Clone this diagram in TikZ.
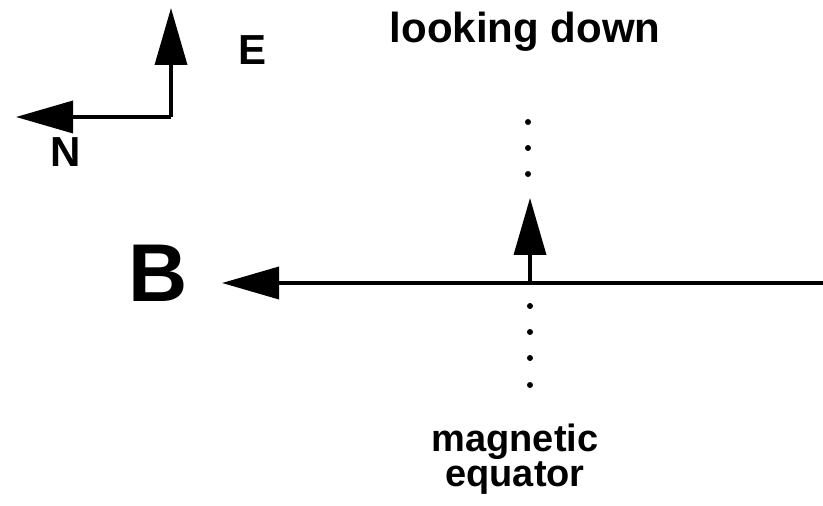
\documentclass[tikz,border=0pt]{standalone}
\usepackage{fontspec}
\setmainfont{Liberation Sans}
\usetikzlibrary{arrows.meta,positioning}

\begin{document}
\begin{tikzpicture}[x=0.5pt,y=-0.5pt,
  lbl/.style={font=\bfseries\fontsize{21}{21}\selectfont,inner sep=0pt,anchor=base},
  big/.style={font=\bfseries\fontsize{41}{41}\selectfont,inner sep=0pt,anchor=base},
  vec/.style={line width=1.8pt,-{Triangle[length=28.5pt,width=16pt]}},
  dot/.style={fill=black}]
 \useasboundingbox (0,0) rectangle (823,506);
 % compass
 \coordinate (corner) at (171,117);
 \coordinate (eTip) at (171,8);
 \coordinate (nTip) at (16,117);
 \draw[vec] (corner)--(eTip);
 \draw[vec] (corner)--(nTip);
 \node[lbl] (east) at (253,65) {E};
 \node[lbl] (north) at (66,167) {N};
 \node[lbl] (look) at (525,43) {looking down};
 % field line
 \node[big] (bfield) at (158,302) {B};
 \coordinate (bStart) at (823,283);
 \coordinate (bTip) at (222,283);
 \draw[vec] (bStart)--(bTip);
 \coordinate (vBase) at (530,283);
 \coordinate (vTip) at (530,198);
 \draw[vec] (vBase)--(vTip);
 % equator dots
 \foreach \y in {122,148,174} \fill[dot] (528,\y) circle (3);
 \foreach \y in {306,332,358,385} \fill[dot] (530,\y) circle (3);
 \node[lbl,font=\bfseries\fontsize{19}{17.5}\selectfont] (mag) at (515,452) {magnetic};
 \node[lbl,font=\bfseries\fontsize{19}{17.5}\selectfont] (equ) at (515,487) {equator};
\end{tikzpicture}
\end{document}
